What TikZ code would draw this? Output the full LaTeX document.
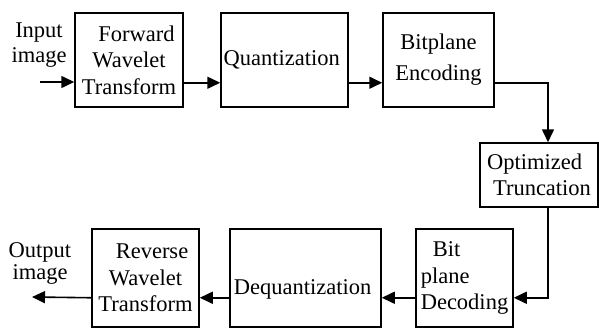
\documentclass[tikz,border=0pt]{standalone}
\usepackage{fontspec}
\setmainfont{Liberation Serif}
\usetikzlibrary{arrows.meta}

\begin{document}
\begin{tikzpicture}[x=1pt, y=-1pt,
    >={Triangle[length=13pt, width=12pt]},
    every node/.style={
        rectangle,
        inner sep=0pt,
        draw,
        line width=1.5pt,
        align=center,
        font=\fontsize{22.5}{26.5}\selectfont
    },
    io_text/.style={
        draw=none
    }
]
    \useasboundingbox (0,0) rectangle (599,329);

    %encoder
    \node (input_image) [io_text, shift={(39, 45)}, font=\fontsize{22.5}{25}\selectfont]
    {
        Input\\image
    };
    \coordinate (input_start) at (40, 82);

    \node (forward_wavelet_transform) [minimum width=108pt, minimum height=94pt, shift={(129, 60)}]
    {
        \hspace*{15pt}Forward\\Wavelet\\Transform
    };
    \node (quantization) [minimum width=127pt, minimum height=94pt, shift={(284.5, 60)}]
    {
        Quantization
    };
    \node (bitplane_encoding) [minimum width=111pt, minimum height=94pt, shift={(438.5, 60)}, font=\fontsize{22.5}{31}\selectfont]
    {
        Bitplane\\Encoding
    };

    %channel
    \node (optimized_truncation) [minimum width=118pt, minimum height=64pt, shift={(539, 175)}, align=left]
    {
        Optimized\\\hspace*{6pt}Truncation
    };

    %decoder
    \node (bit_plane_decoding) [minimum width=97pt, minimum height=98pt, shift={(464.5, 278)}, align=left]
    {
        \hspace*{12pt}Bit\\plane\\Decoding
    };
    \node (dequantization) [minimum width=151pt, minimum height=98pt, shift={(305.5, 278)}, text height=36pt, text depth=4pt]
    {
        Dequantization
    };
    \node (reverse_wavelet_transform) [minimum width=107pt, minimum height=98pt, shift={(145.5, 278)}]
    {
        \hspace*{13pt}Reverse\\Wavelet\\Transform
    };

    \node (output_image) [io_text, shift={(40, 263)}, font=\fontsize{22.5}{22}\selectfont]
    {
        Output\\image
    };
    \coordinate (output_end) at (32, 297);


    %encoder
    \draw[->, line width=1.6pt] (input_start) -- (input_start -| forward_wavelet_transform.west);
    \draw[->, line width=1.6pt] ([yshift=25pt]forward_wavelet_transform.south east) -- ([yshift=25pt]quantization.south west);
    \draw[->, line width=1.6pt] ([yshift=25pt]quantization.south east) -- ([yshift=25pt]bitplane_encoding.south west);

    %channel
    \draw[->, line width=1.6pt] ([yshift=25pt]bitplane_encoding.south east) -| ([xshift=9pt]optimized_truncation.north);
    \draw[->, line width=1.6pt] ([xshift=9pt]optimized_truncation.south) |- ([yshift=30pt]bit_plane_decoding.south east);

    %decoder
    \draw[->, line width=1.6pt] ([yshift=30pt]bit_plane_decoding.south west) -- ([yshift=30pt]dequantization.south east);
    \draw[->, line width=1.6pt] ([yshift=30pt]dequantization.south west) -- ([yshift=30pt]reverse_wavelet_transform.south east);
    \draw[->, line width=1.6pt] ([yshift=30pt]reverse_wavelet_transform.south west) -- (output_end);

\end{tikzpicture}
\end{document}
